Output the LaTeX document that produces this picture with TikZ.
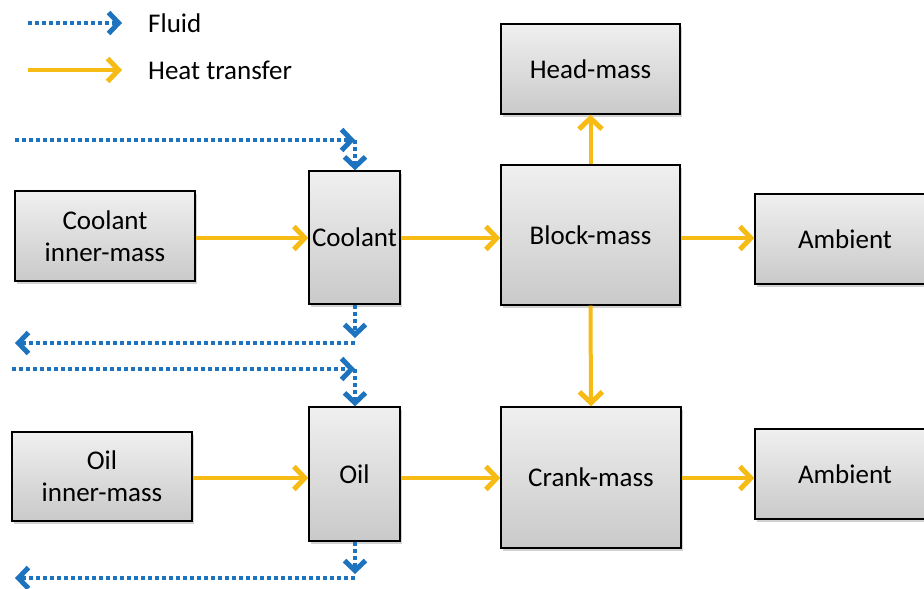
\documentclass[tikz,border=0pt]{standalone}
\usepackage{fontspec}
\setmainfont{Carlito}
\usetikzlibrary{arrows.meta,shadows}
\definecolor{heat}{HTML}{F7BB16}
\definecolor{fluid}{HTML}{1E73BE}
\tikzset{
  box/.style={draw=black, line width=1.4pt, top color=gray!12, bottom color=gray!42,
    drop shadow={shadow xshift=2pt, shadow yshift=-2.5pt, opacity=0.35},
    align=center, font=\fontsize{27}{32}\selectfont, inner sep=0pt},
  heatarrow/.style={draw=heat, line width=4pt, -{Straight Barb[length=11pt,width=23pt,line width=5pt]}},
  fluidarrow/.style={draw=fluid, line width=4pt, dash pattern=on 4pt off 3pt,
    -{Straight Barb[length=10pt,width=21pt,line width=5pt]}},
  legendtext/.style={anchor=west, font=\fontsize{27}{32}\selectfont, inner sep=0pt}
}
\begin{document}
\begin{tikzpicture}[x=1pt,y=-1pt]
\clip (0,0) rectangle (924,589);
\fill[white] (0,0) rectangle (924,589);
% legend
\coordinate (lf1) at (28,23);
\coordinate (lf2) at (122,23);
\coordinate (lh1) at (28,70);
\coordinate (lh2) at (122,70);
\draw[fluidarrow] (lf1) -- (lf2);
\draw[heatarrow] (lh1) -- (lh2);
\node[legendtext] (tfluid) at (148,23) {Fluid};
\node[legendtext] (theat) at (148,70) {Heat transfer};
% boxes
\node[box, minimum width=179pt, minimum height=90pt] (head) at (590.5,69) {Head-mass};
\node[box, minimum width=179pt, minimum height=140pt] (block) at (590.5,235) {Block-mass};
\node[box, minimum width=180pt, minimum height=90pt] (amb1) at (845,239) {Ambient};
\node[box, minimum width=180pt, minimum height=90pt] (cim) at (105,236) {Coolant\\inner-mass};
\node[box, minimum width=91pt, minimum height=133pt] (cool) at (354.5,237.5) {Coolant};
\node[box, minimum width=180pt, minimum height=89pt] (oim) at (102,476.5) {Oil\\inner-mass};
\node[box, minimum width=91pt, minimum height=134pt] (oil) at (354.5,474) {Oil};
\node[box, minimum width=180pt, minimum height=141pt] (crank) at (591,477.5) {Crank-mass};
\node[box, minimum width=180pt, minimum height=90pt] (amb2) at (845,474) {Ambient};
% heat transfer
\draw[heatarrow] (cim.east |- 0,238) -- (cool.west |- 0,238);
\draw[heatarrow] (cool.east |- 0,238) -- (block.west |- 0,238);
\draw[heatarrow] (block.north) -- (head.south);
\draw[heatarrow] (block.east |- 0,238) -- (amb1.west |- 0,238);
\draw[heatarrow] (block.south) -- (crank.north);
\draw[heatarrow] (oim.east |- 0,478) -- (oil.west |- 0,478);
\draw[heatarrow] (oil.east |- 0,478) -- (crank.west |- 0,478);
\draw[heatarrow] (crank.east |- 0,478) -- (amb2.west |- 0,478);
% fluid
\coordinate (cinS) at (15,140);
\coordinate (cinE) at (355,140);
\coordinate (coutD) at (355,338);
\coordinate (coutS) at (355,343);
\coordinate (coutE) at (15,343);
\coordinate (oinS) at (12,369);
\coordinate (oinE) at (355,369);
\coordinate (ooutD) at (355,574);
\coordinate (ooutS) at (355,578);
\coordinate (ooutE) at (15,578);
\draw[fluidarrow] (cinS) -- (cinE);
\draw[fluidarrow] (cinE) -- (cinE |- cool.north);
\draw[fluidarrow] (cool.south -| coutD) -- (coutD);
\draw[fluidarrow] (coutS) -- (coutE);
\draw[fluidarrow] (oinS) -- (oinE);
\draw[fluidarrow] (oinE) -- (oinE |- oil.north);
\draw[fluidarrow] (oil.south -| ooutD) -- (ooutD);
\draw[fluidarrow] (ooutS) -- (ooutE);
\end{tikzpicture}
\end{document}
